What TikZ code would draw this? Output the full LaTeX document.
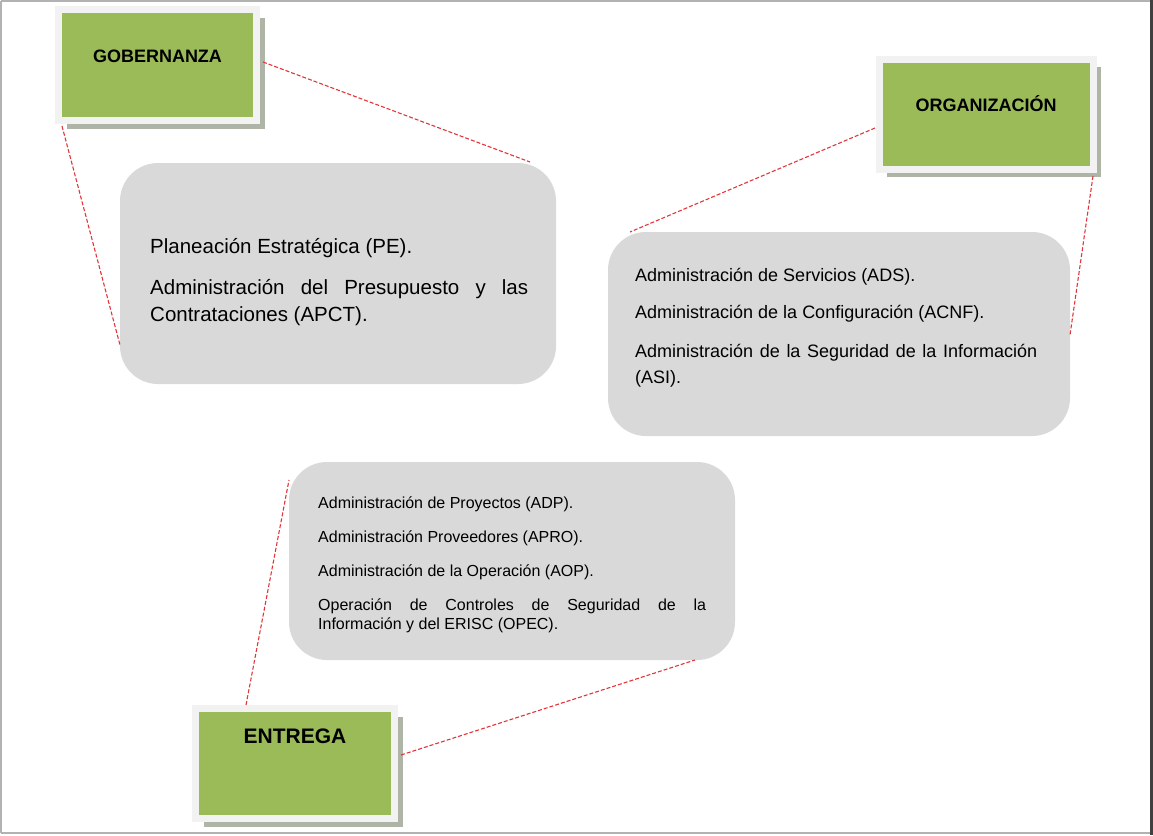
\documentclass[tikz,border=0pt]{standalone}
\usepackage{fontspec}
\setmainfont{Liberation Sans}
\usetikzlibrary{shadows}
\definecolor{leaf}{HTML}{9BBB59}
\definecolor{frameclr}{HTML}{F2F2F2}
\definecolor{shadowclr}{HTML}{AEB4A6}
\definecolor{pill}{HTML}{D9D9D9}
\definecolor{redline}{HTML}{E0363A}
\begin{document}
\begin{tikzpicture}[x=1pt,y=-1pt,
  greenbox/.style={draw=frameclr, line width=7pt, fill=leaf, inner sep=0pt, outer sep=0pt, anchor=north west,
     drop shadow={shadow xshift=8pt, shadow yshift=-8pt, fill=shadowclr, opacity=1}},
  titletext/.style={font=\bfseries\fontsize{18}{21}\selectfont},
  pillbox/.style={fill=pill, rounded corners=38pt, inner sep=0pt, outer sep=0pt, anchor=north west},
  itemtext/.style={anchor=north west, align=justify, inner sep=0pt},
  link/.style={draw=redline, line width=1.1pt, dash pattern=on 4pt off 2pt}]
\useasboundingbox (0,0) rectangle (1153,835);
\draw[gray!60, line width=1.5pt] (0.75,0.75) -- (1151,0.75);
\draw[gray!60, line width=1.5pt] (0.75,0.75) -- (0.75,833);
\draw[gray!60, line width=1.5pt] (0.75,833) -- (1151,833);
\draw[black!75, line width=3pt] (1151.5,0) -- (1151.5,835);
% green title boxes
\node[greenbox, minimum width=198pt, minimum height=111pt,
  label={[titletext, yshift=9pt]center:GOBERNANZA}] (gob) at (58.5,9.5) {};
\node[greenbox, minimum width=214pt, minimum height=110pt,
  label={[titletext, yshift=10pt]center:ORGANIZACIÓN}] (org) at (879,59) {};
\node[greenbox, minimum width=199pt, minimum height=110pt,
  label={[font=\bfseries\fontsize{21}{24}\selectfont, yshift=27pt]center:ENTREGA}] (ent) at (195.5,708.5) {};
% grey rounded boxes
\node[pillbox, minimum width=436pt, minimum height=221pt] (pe) at (120,163) {};
\node[pillbox, minimum width=462pt, minimum height=204pt] (ads) at (608,232) {};
\node[pillbox, minimum width=446pt, minimum height=198pt] (adp) at (289,462) {};
% texts
\node[itemtext, text width=378pt, font=\fontsize{20.5}{27}\selectfont] (pet) at (150,238)
  {Planeación Estratégica (PE).\par\vspace{14pt}
   Administración del Presupuesto y las\linebreak Contrataciones (APCT).};
\node[itemtext, text width=402pt, font=\fontsize{18}{26}\selectfont] (adst) at (635,268)
  {Administración de Servicios (ADS).\par\vspace{11pt}
   Administración de la Configuración (ACNF).\par\vspace{13pt}
   Administración de la Seguridad de la Información\linebreak (ASI).};
\node[itemtext, text width=388pt, font=\fontsize{16}{19}\selectfont] (adpt) at (318,497)
  {Administración de Proyectos (ADP).\par\vspace{15pt}
   Administración Proveedores (APRO).\par\vspace{15pt}
   Administración de la Operación (AOP).\par\vspace{15pt}
   Operación de Controles de Seguridad de la\linebreak Información y del ERISC (OPEC).};
% connectors
\coordinate (g1) at (263,62);   \coordinate (p1) at (530,162);
\coordinate (g2) at (62,126);   \coordinate (p2) at (122,345);
\coordinate (o1) at (875,128);  \coordinate (a1) at (630,232);
\coordinate (o2) at (1093,176); \coordinate (a2) at (1070,335);
\coordinate (e1) at (246,705);  \coordinate (d1) at (290,480);
\coordinate (e2) at (401,755);  \coordinate (d2) at (695,660);
\draw[link] (g1) -- (p1);
\draw[link] (g2) -- (pe.west |- p2);
\draw[link] (o1) -- (a1);
\draw[link] (o2) -- (ads.east |- a2);
\draw[link] (e1) -- (adp.west |- d1);
\draw[link] (e2) -- (d2);
\end{tikzpicture}
\end{document}
